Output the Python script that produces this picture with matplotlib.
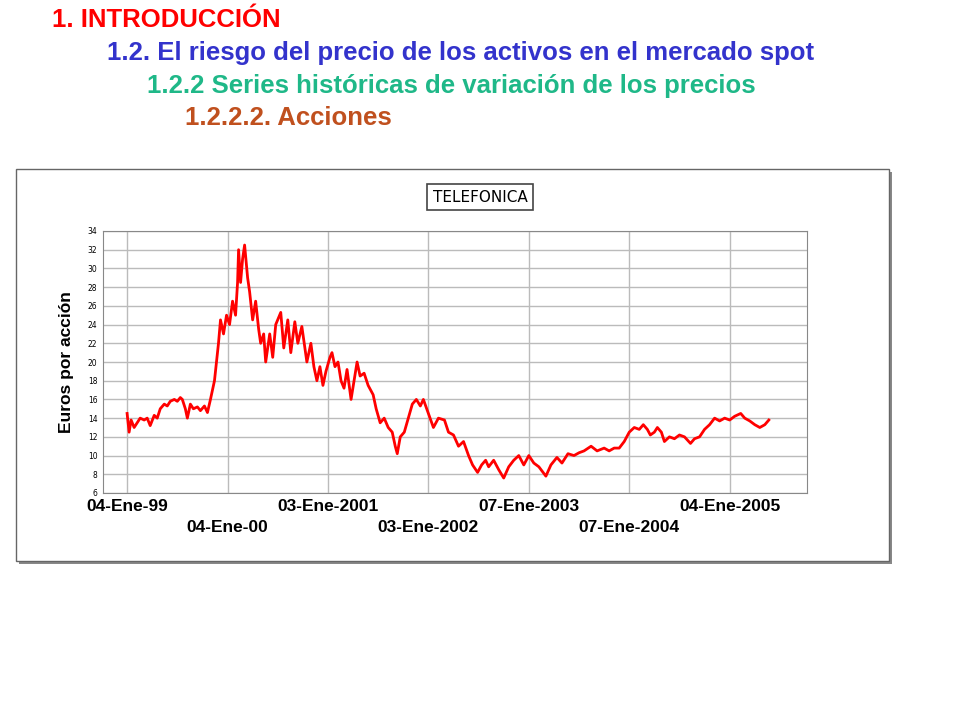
import matplotlib
matplotlib.use("Agg")
import matplotlib.pyplot as plt
from matplotlib.patches import Rectangle

t = [0,0.02,0.04,0.07,0.1,0.13,0.17,0.2,0.23,0.27,0.3,0.33,0.37,0.4,0.43,0.47,0.5,0.53,0.55,0.58,0.6,0.63,0.66,0.7,0.73,0.77,0.8,0.83,0.87,0.89,0.91,0.93,0.96,0.99,1.02,1.05,1.08,1.1,1.11,1.13,1.15,1.17,1.2,1.22,1.25,1.28,1.31,1.33,1.36,1.38,
     1.42,1.45,1.48,1.53,1.56,1.6,1.63,1.67,1.7,1.74,1.77,1.79,1.83,1.86,1.89,1.92,1.95,1.98,2.02,2.04,2.07,2.1,2.13,2.16,2.19,2.23,2.26,2.29,2.32,2.36,2.4,2.45,2.48,2.52,2.56,2.6,2.64,2.67,2.69,2.72,2.76,2.8,2.84,2.88,2.92,2.95,3.0,3.05,3.1,3.16,3.2,3.25,3.3,3.35,3.4,3.44,3.49,3.53,3.57,3.6,3.65,3.7,3.75,3.8,3.85,3.9,3.95,4.0,4.05,4.1,4.17,4.22,4.28,4.33,4.39,4.45,4.5,4.55,4.62,4.68,4.75,4.8,4.85,4.9,4.95,5.0,5.05,5.1,5.14,5.18,5.21,5.25,5.28,5.32,5.35,5.4,5.45,5.5,5.55,5.61,5.65,5.7,5.75,5.8,5.85,5.9,5.95,6.0,6.05,6.11,6.15,6.2,6.25,6.3,6.35,6.39]
price = [14.5,12.5,13.8,13.0,13.5,14.0,13.8,14.0,13.2,14.3,14.0,15.0,15.5,15.3,15.8,16.0,15.8,16.2,16.0,15.0,14.0,15.5,15.0,15.2,14.8,15.3,14.6,16.0,18.0,20.0,22.0,24.5,23.0,25.0,24.0,26.5,25.0,28.5,32.0,28.5,31.0,32.5,29.0,27.5,24.5,26.5,23.5,22.0,23.0,20.0,
     23.0,20.5,24.0,25.3,21.5,24.5,21.0,24.3,22.0,23.8,21.5,20.0,22.0,19.5,18.0,19.5,17.5,19.0,20.5,21.0,19.5,20.0,18.0,17.2,19.2,16.0,18.0,20.0,18.5,18.8,17.5,16.5,15.0,13.5,14.0,13.0,12.5,11.0,10.2,12.0,12.5,14.0,15.5,16.0,15.3,16.0,14.5,13.0,14.0,13.8,12.5,12.2,11.0,11.5,10.0,9.0,8.2,9.0,9.5,8.8,9.5,8.5,7.6,8.8,9.5,10.0,9.0,10.0,9.2,8.8,7.8,9.0,9.8,9.2,10.2,10.0,10.3,10.5,11.0,10.5,10.8,10.5,10.8,10.8,11.5,12.5,13.0,12.8,13.3,12.8,12.2,12.5,13.0,12.5,11.5,12.0,11.8,12.2,12.0,11.3,11.8,12.0,12.8,13.3,14.0,13.7,14.0,13.8,14.2,14.5,14.0,13.7,13.3,13.0,13.3,13.8]
tick_labels = ["04-Ene-99","04-Ene-00","03-Ene-2001","03-Ene-2002","07-Ene-2003","07-Ene-2004","04-Ene-2005"]
yticks = list(range(6, 35, 2))

fig = plt.figure(figsize=(9.6, 7.2), dpi=100)
ff = "Liberation Sans"
heads = [("1. INTRODUCCIÓN", 52, 20, "#FF0000"),
         ("1.2. El riesgo del precio de los activos en el mercado spot", 107, 53, "#3333CC"),
         ("1.2.2 Series históricas de variación de los precios", 147, 86, "#1FB888"),
         ("1.2.2.2. Acciones", 185, 118, "#C0501E")]
for s, x, y, c in heads:
    fig.text(x/960, 1-y/720, s, color=c, fontsize=18.5, fontweight="bold", family=ff, va="center", ha="left")

# chart frame with shadow
fig.patches.append(Rectangle((19/960, 1-564/720), 873/960, 392/720, transform=fig.transFigure, facecolor="#888888", edgecolor="none", zorder=-5))
fig.patches.append(Rectangle((16/960, 1-561/720), 873/960, 392/720, transform=fig.transFigure, facecolor="white", edgecolor="#666666", lw=1, zorder=-4))
fig.text(480/960, 1-197/720, "TELEFONICA", fontsize=11, family="DejaVu Sans", ha="center", va="center",
         bbox=dict(boxstyle="square,pad=0.35", facecolor="white", edgecolor="#444444", lw=1.2))

ax = fig.add_axes([103/960, 227/720, 704/960, 262/720], zorder=5)
ax.plot(t, price, color="#FF0000", lw=2)
ax.set_xlim(-0.24, 6.77)
ax.set_ylim(6, 34)
ax.set_yticks(yticks)
ax.set_yticklabels([str(v) for v in yticks], fontsize=5.5)
ax.set_xticks(range(len(tick_labels)))
ax.set_xticklabels([("" if i % 2 == 0 else "\n") + l for i, l in enumerate(tick_labels)],
                   fontsize=12.5, fontweight="bold", family=ff, linespacing=1.5)
ax.grid(True, color="#BBBBBB", lw=1)
ax.tick_params(length=0, pad=4)
for s in ax.spines.values():
    s.set_color("#888888")
ax.set_ylabel("Euros por acción", fontsize=12.5, fontweight="bold", family=ff, labelpad=10)
fig.savefig("out.png", dpi=100)
